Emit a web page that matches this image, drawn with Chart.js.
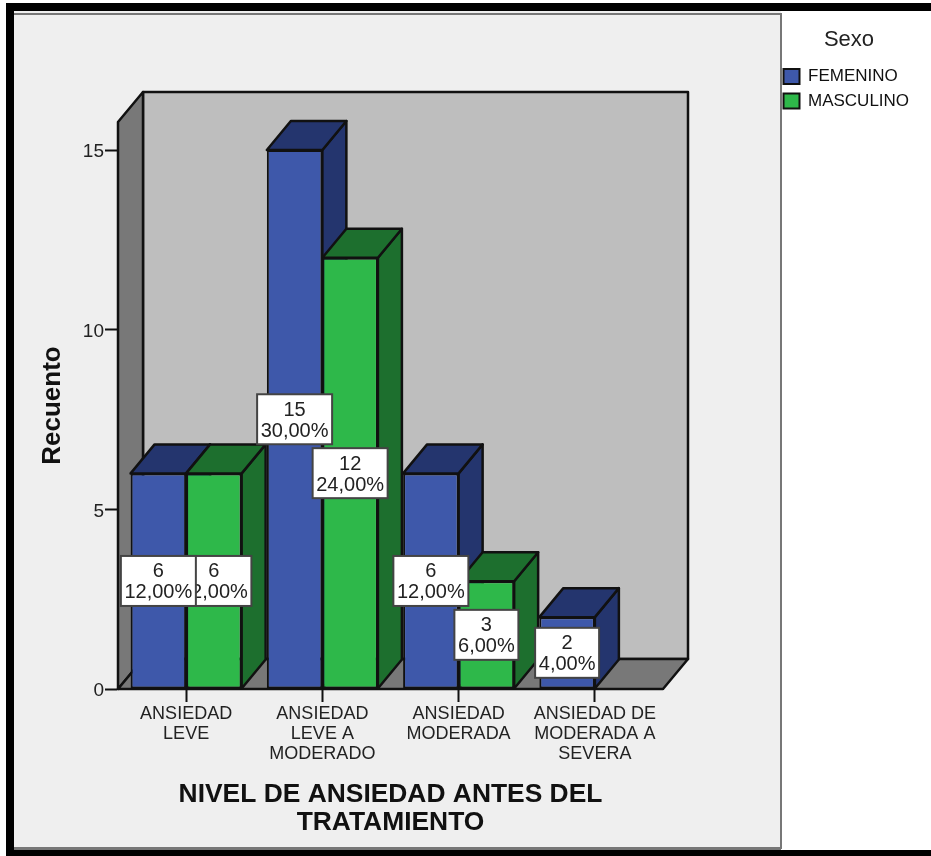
<!DOCTYPE html>
<html>
<head>
<meta charset="utf-8">
<title>Nivel de ansiedad antes del tratamiento</title>
<script src="https://cdn.jsdelivr.net/npm/chart.js@4"></script>
<style>
    html, body { margin: 0; padding: 0; background: #ffffff; }
    canvas { display: block; }
</style>
</head>
<body>
<canvas id="chartAnsiedad" width="931" height="856"></canvas>
<script>
const categories = [
    ['ANSIEDAD', 'LEVE'],
    ['ANSIEDAD', 'LEVE A', 'MODERADO'],
    ['ANSIEDAD', 'MODERADA'],
    ['ANSIEDAD DE', 'MODERADA A', 'SEVERA']
];
const femenino = [6, 15, 6, 2];
const masculino = [6, 12, 3, null];
const femeninoPct = ['12,00%', '30,00%', '12,00%', '4,00%'];
const masculinoPct = ['12,00%', '24,00%', '6,00%', null];
const yTicks = [0, 5, 10, 15];

const FONT = '"Liberation Sans", Arial, sans-serif';
const TEXT = '#222222';
const LINE = '#111111';

function polygon(ctx, points, fill) {
    ctx.beginPath();
    points.forEach((p, i) => i ? ctx.lineTo(p[0], p[1]) : ctx.moveTo(p[0], p[1]));
    ctx.closePath();
    ctx.fillStyle = fill;
    ctx.fill();
    ctx.stroke();
}

// Frame, panel and the three walls of the box behind the bars
const boxPlugin = {
    id: 'box',
    beforeDraw(chart) {
        const ctx = chart.ctx;
        const { left, right, top, bottom } = chart.chartArea;
        const dx = 25, dy = 30;

        ctx.save();
        ctx.fillStyle = '#efefef';
        ctx.fillRect(14, 11, 767, 837);
        ctx.fillStyle = '#777777';
        ctx.fillRect(14, 13, 767, 2);
        ctx.fillRect(780, 13, 2, 836);
        ctx.fillRect(14, 847, 767, 3);
        ctx.fillStyle = '#000000';
        ctx.fillRect(6, 3, 925, 8);
        ctx.fillRect(6, 3, 8, 853);
        ctx.fillRect(6, 850, 925, 6);

        ctx.strokeStyle = LINE;
        ctx.lineWidth = 2.5;
        ctx.lineJoin = 'round';
        polygon(ctx, [[left + dx, top - dy], [right + dx, top - dy], [right + dx, bottom - dy], [left + dx, bottom - dy]], '#bebebe');
        polygon(ctx, [[left, top], [left + dx, top - dy], [left + dx, bottom - dy], [left, bottom]], '#787878');
        polygon(ctx, [[left, bottom], [left + dx, bottom - dy], [right + dx, bottom - dy], [right, bottom]], '#787878');
        ctx.restore();
    }
};

// Top and side faces of each bar, the front face is the bar element itself
const depthPlugin = {
    id: 'depth',
    beforeDatasetsDraw(chart) {
        const ctx = chart.ctx;
        const dx = 24, dy = 29;
        ctx.save();
        ctx.strokeStyle = LINE;
        ctx.lineWidth = 2.5;
        ctx.lineJoin = 'round';
        chart.data.datasets.forEach((ds, d) => {
            chart.getDatasetMeta(d).data.forEach((bar, i) => {
                if (ds.data[i] == null) return;
                const l = bar.x - bar.width / 2;
                const r = bar.x + bar.width / 2;
                polygon(ctx, [[r, bar.y], [r + dx, bar.y - dy], [r + dx, bar.base - dy], [r, bar.base]], ds.depthColor);
                polygon(ctx, [[l, bar.y], [l + dx, bar.y - dy], [r + dx, bar.y - dy], [r, bar.y]], ds.depthColor);
            });
        });
        ctx.restore();
    }
};

// White boxes with count and percentage, masculino first so femenino stays on top
const valueBoxPlugin = {
    id: 'valueBoxes',
    afterDatasetsDraw(chart) {
        const ctx = chart.ctx;
        ctx.save();
        ctx.font = '20px ' + FONT;
        ctx.textAlign = 'center';
        ctx.textBaseline = 'middle';
        [1, 0].forEach(d => {
            const ds = chart.data.datasets[d];
            chart.getDatasetMeta(d).data.forEach((bar, i) => {
                if (ds.data[i] == null) return;
                const pct = ds.percents[i];
                const w = Math.round(ctx.measureText(pct).width) + 7;
                const h = 50;
                const cy = (bar.y + bar.base) / 2;
                ctx.fillStyle = '#ffffff';
                ctx.strokeStyle = '#444444';
                ctx.lineWidth = 2;
                ctx.fillRect(bar.x - w / 2, cy - h / 2, w, h);
                ctx.strokeRect(bar.x - w / 2, cy - h / 2, w, h);
                ctx.fillStyle = TEXT;
                ctx.fillText(String(ds.data[i]), bar.x, cy - 9);
                ctx.fillText(pct, bar.x, cy + 12);
            });
        });
        ctx.restore();
    }
};

// Legend sits in the blank strip right of the panel
let legendFitWidth = 0;
const legendPlacePlugin = {
    id: 'legendPlace',
    afterLayout(chart) {
        const legend = chart.legend;
        const h = legend.height;
        legendFitWidth = legend.width;
        legend.left = 776;
        legend.right = 922;
        legend.width = 146;
        legend.top = 25;
        legend.bottom = 25 + h;
    }
};

const ctx = document.getElementById('chartAnsiedad').getContext('2d');
const chart = new Chart(ctx, {
    type: 'bar',
    data: {
        labels: categories,
        datasets: [
            {
                label: 'FEMENINO',
                data: femenino,
                percents: femeninoPct,
                backgroundColor: '#3e58aa',
                depthColor: '#24356e',
                borderColor: LINE,
                borderWidth: 2,
                borderSkipped: false
            },
            {
                label: 'MASCULINO',
                data: masculino,
                percents: masculinoPct,
                backgroundColor: '#2eb84a',
                depthColor: '#1d6f2e',
                borderColor: LINE,
                borderWidth: 2,
                borderSkipped: false
            }
        ]
    },
    options: {
        responsive: false,
        animation: false,
        devicePixelRatio: 1,
        layout: { padding: { left: 14, top: 122, right: 100, bottom: 0 } },
        datasets: { bar: { categoryPercentage: 0.815, barPercentage: 1 } },
        scales: {
            x: {
                grid: { offset: false, drawOnChartArea: false, tickLength: 13, tickColor: LINE, tickWidth: 2 },
                border: { color: LINE, width: 2 },
                ticks: {
                    color: TEXT,
                    font: { family: FONT, size: 18, lineHeight: 1.11 },
                    padding: 2,
                    maxRotation: 0,
                    autoSkip: false
                },
                title: {
                    display: true,
                    text: ['NIVEL DE ANSIEDAD ANTES DEL', 'TRATAMIENTO'],
                    color: '#111111',
                    font: { family: FONT, size: 26.4, weight: 'bold', lineHeight: 1.03 },
                    padding: { top: 0, bottom: 20 }
                },
                afterFit(scale) { scale.height = 167; }
            },
            y: {
                min: 0,
                max: 15.78,
                grid: { drawOnChartArea: false, tickLength: 13, tickColor: LINE, tickWidth: 2 },
                border: { color: LINE, width: 2 },
                afterBuildTicks(scale) { scale.ticks = yTicks.map(v => ({ value: v })); },
                ticks: {
                    color: TEXT,
                    font: { family: FONT, size: 19 },
                    padding: 1,
                    labelOffset: 2
                },
                title: {
                    display: true,
                    text: 'Recuento',
                    color: '#111111',
                    font: { family: FONT, size: 26, weight: 'bold', lineHeight: 1.2 },
                    padding: { top: 23, bottom: 0 }
                },
                afterFit(scale) { scale.width = 104; }
            }
        },
        plugins: {
            tooltip: { enabled: false },
            legend: {
                position: 'right',
                align: 'start',
                title: {
                    display: true,
                    text: 'Sexo',
                    color: TEXT,
                    font: { family: FONT, size: 22 },
                    padding: { top: 4, bottom: 5 }
                },
                labels: {
                    color: '#111111',
                    font: { family: FONT, size: 17 },
                    boxWidth: 16,
                    boxHeight: 15,
                    padding: 7.5
                }
            }
        }
    },
    plugins: [boxPlugin, depthPlugin, valueBoxPlugin, legendPlacePlugin]
});

// Leave room so the plot ends at x=663 whatever width the legend measures
chart.options.layout.padding.right = 268 - legendFitWidth;
chart.update();
</script>
</body>
</html>
